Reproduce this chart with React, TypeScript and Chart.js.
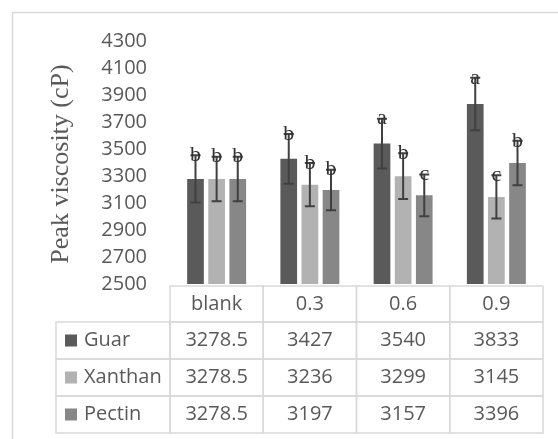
import React, { useEffect, useRef } from "react";
import { Chart, registerables } from "chart.js";

Chart.register(...registerables);

const categories = ["blank", "0.3", "0.6", "0.9"];
const seriesNames = ["Guar", "Xanthan", "Pectin"];
const guarValues = [3278.5, 3427, 3540, 3833];
const xanthanValues = [3278.5, 3236, 3299, 3145];
const pectinValues = [3278.5, 3197, 3157, 3396];
const guarErrors = [175, 185, 185, 195];
const xanthanErrors = [165, 160, 170, 160];
const pectinErrors = [165, 150, 155, 165];
const guarLetters = ["b", "b", "a", "a"];
const xanthanLetters = ["b", "b", "b", "c"];
const pectinLetters = ["b", "b", "c", "b"];
const seriesColors = ["#5a5a5a", "#b2b2b2", "#878787"];
const yMin = 2500;
const yMax = 4300;
const yStep = 200;
const yTitle = "Peak viscosity (cP)";

const allValues = [guarValues, xanthanValues, pectinValues];
const allErrors = [guarErrors, xanthanErrors, pectinErrors];
const allLetters = [guarLetters, xanthanLetters, pectinLetters];

const TEXT = "#595959";
const LINE = "#d9d9d9";
const SANS = "'Open Sans', 'Noto Sans', sans-serif";
const SERIF = "'Liberation Serif', 'DejaVu Serif', serif";

const extrasPlugin = {
  id: "extras",
  beforeDraw(chart: any) {
    const ctx = chart.ctx;
    ctx.save();
    ctx.fillStyle = "#ffffff";
    ctx.fillRect(0, 0, chart.width, chart.height);
    ctx.strokeStyle = LINE;
    ctx.lineWidth = 1.5;
    ctx.beginPath();
    ctx.moveTo(12.5, chart.height);
    ctx.lineTo(12.5, 12.5);
    ctx.lineTo(chart.width, 12.5);
    ctx.stroke();
    ctx.translate(61, 164);
    ctx.rotate(-Math.PI / 2);
    ctx.fillStyle = TEXT;
    ctx.font = "26px " + SERIF;
    ctx.textAlign = "center";
    ctx.textBaseline = "middle";
    ctx.fillText(yTitle, 0, 0);
    ctx.restore();
  },
  afterDatasetsDraw(chart: any) {
    const ctx = chart.ctx;
    const yScale = chart.scales.y;
    ctx.save();
    chart.data.datasets.forEach((ds: any, di: number) => {
      const meta = chart.getDatasetMeta(di);
      meta.data.forEach((el: any, i: number) => {
        const v = allValues[di][i];
        const e = allErrors[di][i];
        const x = el.x;
        const yTop = yScale.getPixelForValue(v + e);
        const yBot = yScale.getPixelForValue(v - e);
        ctx.strokeStyle = "#404040";
        ctx.lineWidth = 2;
        ctx.beginPath();
        ctx.moveTo(x, yTop);
        ctx.lineTo(x, yBot);
        ctx.moveTo(x - 5, yTop);
        ctx.lineTo(x + 5, yTop);
        ctx.moveTo(x - 5, yBot);
        ctx.lineTo(x + 5, yBot);
        ctx.stroke();
        ctx.fillStyle = "#333333";
        ctx.font = "22px " + SERIF;
        ctx.textAlign = "center";
        ctx.textBaseline = "middle";
        ctx.fillText(allLetters[di][i], x, yTop);
      });
    });
    ctx.restore();
  },
  afterDraw(chart: any) {
    const ctx = chart.ctx;
    const area = chart.chartArea;
    const xScale = chart.scales.x;
    const n = categories.length;
    const colW = (area.right - area.left) / n;
    const headTop = area.bottom + 2;
    const headH = 36;
    const rowH = 37;
    const labelLeft = 56;
    ctx.save();
    ctx.strokeStyle = LINE;
    ctx.lineWidth = 1.5;
    for (let i = 0; i < n; i++) {
      const cx = xScale.getPixelForValue(i);
      ctx.strokeRect(cx - colW / 2, headTop, colW, headH);
      ctx.fillStyle = TEXT;
      ctx.font = "20px " + SANS;
      ctx.textAlign = "center";
      ctx.textBaseline = "middle";
      ctx.fillText(categories[i], cx, headTop + headH / 2);
    }
    seriesNames.forEach((name, r) => {
      const top = headTop + headH + r * rowH;
      ctx.strokeStyle = LINE;
      ctx.strokeRect(labelLeft, top, area.left - labelLeft, rowH);
      ctx.fillStyle = seriesColors[r];
      ctx.fillRect(labelLeft + 9, top + rowH / 2 - 6, 12, 12);
      ctx.fillStyle = TEXT;
      ctx.font = "20px " + SANS;
      ctx.textAlign = "left";
      ctx.textBaseline = "middle";
      ctx.fillText(name, labelLeft + 28, top + rowH / 2);
      for (let i = 0; i < n; i++) {
        const cx = xScale.getPixelForValue(i);
        ctx.strokeStyle = LINE;
        ctx.strokeRect(cx - colW / 2, top, colW, rowH);
        ctx.fillStyle = TEXT;
        ctx.textAlign = "center";
        ctx.fillText(String(allValues[r][i]), cx, top + rowH / 2);
      }
    });
    ctx.restore();
  },
};

export default function App() {
  const ref = useRef<HTMLCanvasElement | null>(null);
  useEffect(() => {
    if (!ref.current) return;
    const chart = new Chart(ref.current, {
      type: "bar",
      data: {
        labels: categories,
        datasets: seriesNames.map((name, i) => ({
          label: name,
          data: allValues[i],
          backgroundColor: seriesColors[i],
          borderWidth: 0,
          categoryPercentage: 0.68,
          barPercentage: 0.79,
        })),
      },
      options: {
        responsive: false,
        animation: false,
        devicePixelRatio: 1,
        layout: { padding: { left: 0, right: 15, top: 41, bottom: 155 } },
        plugins: {
          legend: { display: false },
          tooltip: { enabled: false },
          title: { display: false },
        },
        scales: {
          x: {
            display: false,
            grid: { display: false },
          },
          y: {
            min: yMin,
            max: yMax,
            grid: { display: false, drawTicks: false },
            border: { display: false },
            ticks: {
              stepSize: yStep,
              padding: 23,
              color: TEXT,
              font: { family: SANS, size: 20 },
              callback: (v: any) => String(v),
            },
            afterFit: (scale: any) => {
              scale.width = 170;
            },
          },
        },
      },
      plugins: [extrasPlugin],
    });
    return () => chart.destroy();
  }, []);
  return (
    <div style={{ position: "absolute", left: 0, top: 0, width: 558, height: 439 }}>
      <canvas ref={ref} width={558} height={439} />
    </div>
  );
}
